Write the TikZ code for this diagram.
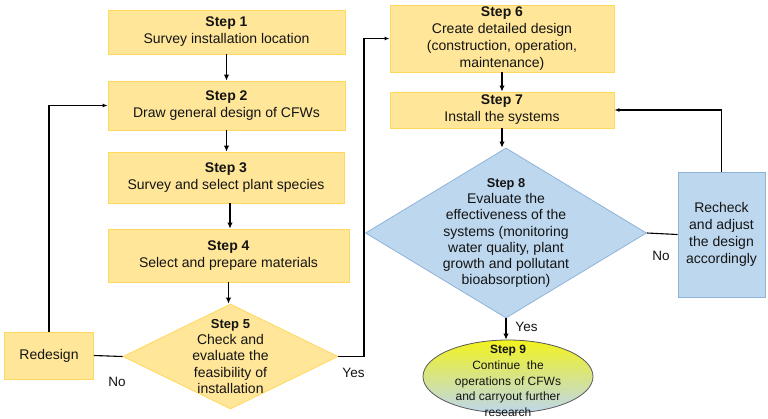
\documentclass[tikz,border=0pt]{standalone}
\usepackage{fontspec}
\setmainfont{Liberation Sans}
\usetikzlibrary{shapes.geometric,arrows.meta}
\definecolor{yfill}{HTML}{FFE699}
\definecolor{ydraw}{HTML}{FFD85C}
\definecolor{bfill}{HTML}{BDD7EE}
\definecolor{bdraw}{HTML}{8FB3D9}
\definecolor{txt}{HTML}{141414}
\definecolor{ytop}{HTML}{F2F21E}
\definecolor{ymid}{HTML}{E6EB46}
\tikzset{
  every node/.style={text=txt, font=\fontsize{14}{17}\selectfont},
  ybox/.style={rectangle, fill=yfill, draw=ydraw, line width=0.8pt, inner sep=0pt, align=center},
  bbox/.style={rectangle, fill=bfill, draw=bdraw, line width=0.8pt, inner sep=0pt, align=center},
  ydia/.style={diamond, fill=yfill, draw=ydraw, line width=0.8pt, inner sep=0pt},
  bdia/.style={diamond, fill=bfill, draw=bdraw, line width=0.8pt, inner sep=0pt},
  diatext/.style={align=center, font=\fontsize{14}{16.3}\selectfont, inner sep=0pt},
  arr/.style={-{Latex[length=6pt,width=5.5pt]}, line width=1.8pt, black},
  fb/.style={-{Latex[length=5pt,width=4pt]}, line width=1.1pt, black},
  plain/.style={line width=1.1pt, black},
  lbl/.style={font=\fontsize{13.5}{16}\selectfont, inner sep=0pt}
}
\begin{document}
\begin{tikzpicture}[x=1pt,y=-1pt]
\useasboundingbox (0,0) rectangle (768,418);
\fill[white] (0,0) rectangle (768,418);
% left column
\node[ybox, minimum width=237pt, minimum height=44pt] (s1) at (226.5,32) {\textbf{Step 1}\\Survey installation location};
\node[ybox, minimum width=237pt, minimum height=49pt] (s2) at (226.5,105.5) {\textbf{Step 2}\\Draw general design of CFWs};
\node[ybox, minimum width=236pt, minimum height=51pt] (s3) at (226,177.5) {\textbf{Step 3}\\Survey and select plant species};
\node[ybox, minimum width=241pt, minimum height=53pt] (s4) at (228.5,255.5) {\textbf{Step 4}\\Select and prepare materials};
\node[ydia, minimum width=215pt, minimum height=105pt] (s5) at (230.5,356.5) {};
\node[diatext] (s5t) at (230.5,356.5) {{\fontsize{13}{16.3}\selectfont\textbf{Step 5}}\\Check and\\evaluate the\\feasibility of\\installation};
\node[ybox, minimum width=89pt, minimum height=47pt] (rd) at (49,355.5) {Redesign};
% right column
\node[ybox, minimum width=224pt, minimum height=67pt] (s6) at (502,38.5) {\textbf{Step 6}\\Create detailed design\\(construction, operation,\\maintenance)};
\node[ybox, minimum width=224pt, minimum height=36pt] (s7) at (502,110) {\textbf{Step 7}\\Install the systems};
\node[bdia, minimum width=281pt, minimum height=170pt] (s8) at (506,233) {};
\node[diatext] (s8t) at (506,233) {{\fontsize{12.8}{16.3}\selectfont\textbf{Step 8}}\\Evaluate the\\effectiveness of the\\systems (monitoring\\water quality, plant\\growth and pollutant\\bioabsorption)};
\node[bbox, minimum width=87pt, minimum height=125pt] (rc) at (721.5,234.5) {Recheck\\and adjust\\the design\\accordingly};
\node[ellipse, draw=black!65, line width=0.8pt, top color=ytop, middle color=ymid, bottom color=bfill, shading angle=0, minimum width=170pt, minimum height=73pt, inner sep=0pt] (s9) at (508,376.5) {};
\node[align=center, inner sep=0pt, font=\fontsize{12}{15.8}\selectfont] (s9t) at (508,381) {\textbf{Step 9}\\Continue\ \ the\\operations of CFWs\\and carryout further\\research};
% connectors
\draw[arr] (s1.south) -- (s1.south |- s2.north);
\draw[arr] (s2.south) -- (s2.south |- s3.north);
\draw[arr] ([xshift=4pt]s3.south) -- ([xshift=4pt]s3.south |- s4.north);
\draw[arr] (s4.south) -- (s4.south |- s5.north);
\draw[plain] (rd.east) -- (s5.west);
\draw[fb] (rd.north) |- (s2.west);
\coordinate (yc) at (364,356.5);
\draw[fb] (s5.east) -- (yc) |- (s6.west);
\draw[arr] (s6.south) -- (s6.south |- s7.north);
\draw[arr] (s7.south) -- (s7.south |- s8.north);
\draw[plain] (s8.east) -- (rc.west);
\draw[fb] (rc.north) |- (s7.east);
\draw[arr] (s8.south) -- (s8.south |- s9.north);
% labels
\node[lbl] (lno1) at (117,382) {No};
\node[lbl] (lyes1) at (353.5,373) {Yes};
\node[lbl] (lno2) at (661,256) {No};
\node[lbl] (lyes2) at (526.5,327) {Yes};
\end{tikzpicture}
\end{document}
